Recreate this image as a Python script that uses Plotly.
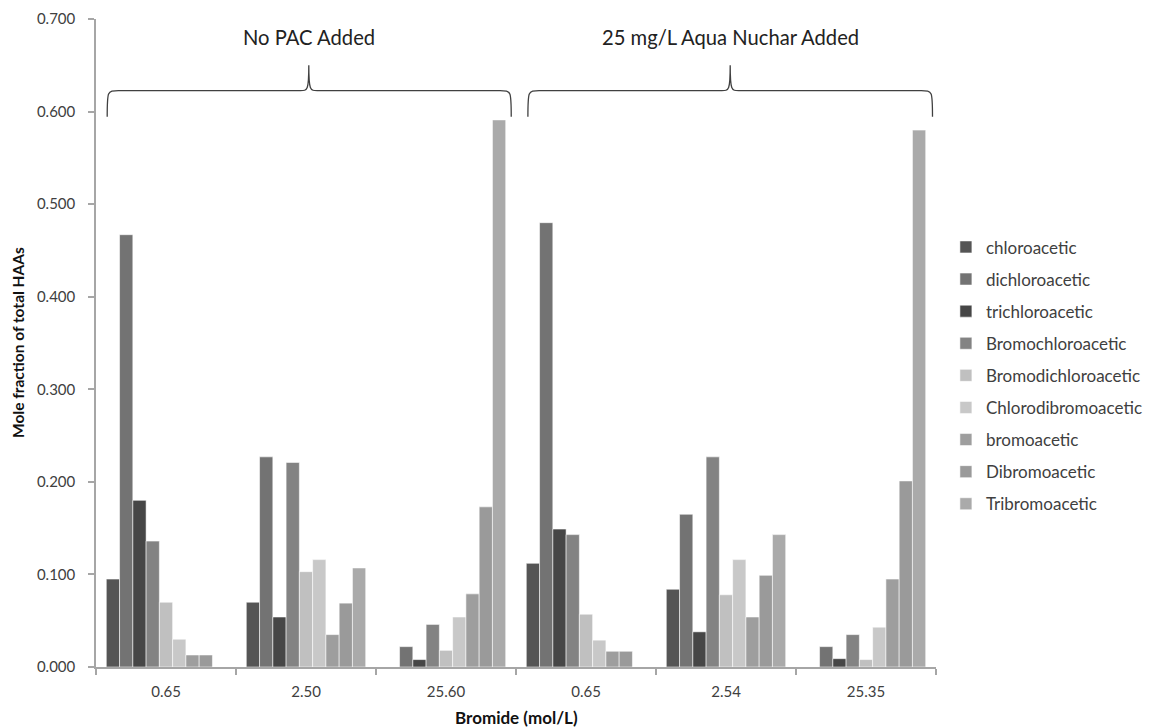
import plotly.graph_objects as go

categories = ["0.65", "2.50", "25.60", "0.65", "2.54", "25.35"]
series_names = ["chloroacetic", "dichloroacetic", "trichloroacetic", "Bromochloroacetic",
                "Bromodichloroacetic", "Chlorodibromoacetic", "bromoacetic",
                "Dibromoacetic", "Tribromoacetic"]

chloroacetic = [0.095, 0.070, 0.000, 0.112, 0.084, 0.000]
dichloroacetic = [0.467, 0.227, 0.022, 0.480, 0.165, 0.022]
trichloroacetic = [0.180, 0.054, 0.008, 0.149, 0.038, 0.009]
bromochloroacetic = [0.136, 0.221, 0.046, 0.143, 0.227, 0.035]
bromodichloroacetic = [0.070, 0.103, 0.018, 0.057, 0.078, 0.008]
chlorodibromoacetic = [0.030, 0.116, 0.054, 0.029, 0.116, 0.043]
bromoacetic = [0.013, 0.035, 0.079, 0.017, 0.054, 0.095]
dibromoacetic = [0.013, 0.069, 0.173, 0.017, 0.099, 0.201]
tribromoacetic = [0.000, 0.107, 0.591, 0.000, 0.143, 0.580]

series_values = [chloroacetic, dichloroacetic, trichloroacetic, bromochloroacetic,
                 bromodichloroacetic, chlorodibromoacetic, bromoacetic,
                 dibromoacetic, tribromoacetic]
colors = ["#555555", "#737373", "#464646", "#838383", "#c0c0c0",
          "#c8c8c8", "#9e9e9e", "#9a9a9a", "#aaaaaa"]

group_titles = ["No PAC Added", "25 mg/L Aqua Nuchar Added"]
y_ticks = [0.0, 0.1, 0.2, 0.3, 0.4, 0.5, 0.6, 0.7]
x_title = "Bromide (mol/L)"
y_title = "Mole fraction of total HAAs"

FONT = "Lato"
x_pos = list(range(len(categories)))

fig = go.Figure()
for i, (name, vals, col) in enumerate(zip(series_names, series_values, colors)):
    fig.add_trace(go.Bar(
        x=x_pos, y=vals, name=name, legendgroup=name,
        marker=dict(color=col, line=dict(color="rgba(255,255,255,0.55)", width=1)),
    ))

# Curly braces over the two treatment groups
def brace(x0, x1, xm, yb, yh, yt):
    return (f"M {x0},{yb} C {x0},{yh} {x0},{yh} {x0 + 0.08},{yh} "
            f"L {xm - 0.06},{yh} C {xm - 0.01},{yh} {xm},{yh} {xm},{yt} "
            f"C {xm},{yh} {xm + 0.01},{yh} {xm + 0.06},{yh} "
            f"L {x1 - 0.08},{yh} C {x1},{yh} {x1},{yh} {x1},{yb}")

brace_specs = [(-0.42, 2.466, 1.02), (2.585, 5.475, 4.03)]
for (x0, x1, xm), title in zip(brace_specs, group_titles):
    fig.add_shape(type="path", xref="x", yref="y",
                  path=brace(x0, x1, xm, 0.5945, 0.6226, 0.650),
                  line=dict(color="#404040", width=1.3))
    fig.add_annotation(x=xm, y=0.681, xref="x", yref="y", text=title,
                       showarrow=False, font=dict(family=FONT, size=20.2, color="#222222"))

# Axis titles
fig.add_annotation(x=0.5, y=0, xref="paper", yref="paper", yshift=-50,
                   xanchor="center", yanchor="middle",
                   text=f"<b>{x_title}</b>", showarrow=False,
                   font=dict(family=FONT, size=17, color="#111111"))
fig.add_annotation(x=0, xshift=-78, y=0.5, xref="paper", yref="paper",
                   text=f"<b>{y_title}</b>", showarrow=False, textangle=-90,
                   xanchor="center", yanchor="middle",
                   font=dict(family=FONT, size=15.5, color="#111111"))

# The page body adds an 8px offset, so margins are shifted to compensate
fig.update_layout(
    width=1151, height=727,
    margin=dict(l=88, r=219, t=11, b=68),
    paper_bgcolor="white", plot_bgcolor="white",
    barmode="group", bargap=0.147, bargroupgap=0,
    font=dict(family=FONT, color="#404040"),
    showlegend=True,
    legend=dict(x=1.0118, y=0.45, xanchor="left", yanchor="middle",
                tracegroupgap=7, font=dict(family=FONT, size=17, color="#404040"),
                itemwidth=30, bgcolor="rgba(0,0,0,0)"),
    xaxis=dict(
        range=[-0.5, 5.5], tickmode="array", tickvals=x_pos, ticktext=categories,
        ticks="", showline=True, linecolor="#a6a6a6", linewidth=1.5,
        tickfont=dict(family=FONT, size=15, color="#404040"), ticklabelstandoff=10,
        minor=dict(tickmode="array", tickvals=[-0.5, 0.5, 1.5, 2.5, 3.5, 4.5, 5.5],
                   ticks="outside", ticklen=6, tickcolor="#a6a6a6", tickwidth=1.5),
        automargin=False, showgrid=False, zeroline=False,
    ),
    yaxis=dict(
        range=[0, 0.7], tickmode="array", tickvals=y_ticks, tickformat=".3f",
        ticks="outside", ticklen=6, tickcolor="#a6a6a6", tickwidth=1.5,
        showline=True, linecolor="#a6a6a6", linewidth=1.5,
        tickfont=dict(family=FONT, size=15, color="#404040"), ticklabelstandoff=10,
        automargin=False, showgrid=False, zeroline=False,
    ),
)

fig.write_html("out.html")
